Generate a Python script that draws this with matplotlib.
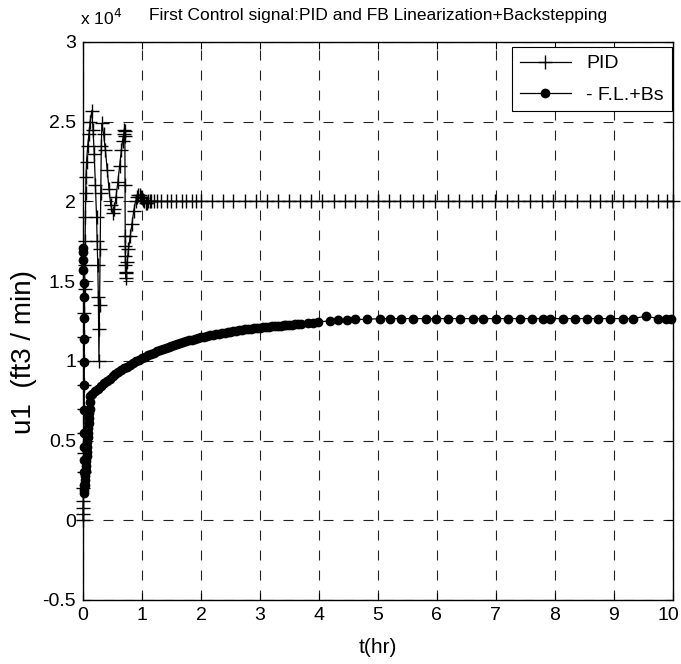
import matplotlib
matplotlib.use("Agg")
import matplotlib.pyplot as plt
from matplotlib.transforms import ScaledTranslation

plt.rcParams.update({
    "font.family": ["Liberation Sans", "DejaVu Sans"],
    "lines.scale_dashes": False,
    "axes.linewidth": 1.0,
})

# values in units of 1e4 ft3/min
pid_t = [0, 0, 0, 0.005, 0.005, 0.01, 0.01, 0.015, 0.015, 0.02, 0.02, 0.025, 0.025,
         0.03, 0.03, 0.035, 0.04, 0.045, 0.05, 0.06, 0.08, 0.10, 0.12, 0.15,
         0.17, 0.19, 0.21, 0.23, 0.24, 0.25, 0.26, 0.265, 0.27,
         0.28, 0.29, 0.30, 0.31, 0.32,
         0.35, 0.38, 0.41, 0.44, 0.47, 0.50, 0.53,
         0.56, 0.59, 0.62, 0.65, 0.67, 0.69, 0.70, 0.705, 0.71,
         0.712, 0.714, 0.716, 0.718, 0.72, 0.722, 0.724,
         0.73, 0.75, 0.77, 0.80, 0.83, 0.86, 0.89, 0.92,
         0.94, 0.96, 0.98, 1.00, 1.02, 1.04, 1.06, 1.08, 1.10, 1.13, 1.16, 1.20,
         1.25, 1.33, 1.42, 1.50, 1.58, 1.67, 1.75, 1.84, 1.92, 2.00,
         2.18, 2.37, 2.55, 2.74, 2.93, 3.12, 3.30, 3.50, 3.68, 3.87,
         4.06, 4.25, 4.44, 4.62, 4.81, 5.00, 5.19, 5.37, 5.59, 5.77,
         5.97, 6.19, 6.37, 6.59, 6.77, 6.98, 7.19, 7.37, 7.58, 7.78,
         7.97, 8.17, 8.37, 8.59, 8.77, 8.97, 9.16, 9.36, 9.56, 9.75, 9.91, 10.0]
pid_u = [0.0, 0.04, 0.08, 0.12, 0.20, 0.30, 0.42, 0.55, 0.70, 0.85, 1.00, 1.15, 1.30,
         1.45, 1.60, 1.75, 1.90, 2.05, 2.15, 2.25, 2.35, 2.42, 2.50, 2.57,
         2.45, 2.30, 2.10, 1.90, 1.75, 1.60, 1.40, 1.20, 1.00,
         1.35, 1.70, 2.05, 2.35, 2.49,
         2.42, 2.32, 2.20, 2.08, 1.98, 1.93, 1.95,
         2.03, 2.12, 2.22, 2.32, 2.38, 2.42, 2.45, 2.44, 2.41,
         2.10, 1.78, 1.72, 1.66, 1.60, 1.55, 1.52,
         1.56, 1.62, 1.70, 1.78, 1.86, 1.94, 2.00, 2.03,
         2.04, 2.04, 2.03, 2.02, 2.01, 2.00, 1.99, 1.99, 2.00, 2.00, 2.00, 2.00,
         2.00, 2.00, 2.00, 2.00, 2.00, 2.00, 2.00, 2.00, 2.00, 2.00,
         2.00, 2.00, 2.00, 2.00, 2.00, 2.00, 2.00, 2.00, 2.00, 2.00,
         2.00, 2.00, 2.00, 2.00, 2.00, 2.00, 2.00, 2.00, 2.00, 2.00,
         2.00, 2.00, 2.00, 2.00, 2.00, 2.00, 2.00, 2.00, 2.00, 2.00,
         2.00, 2.00, 2.00, 2.00, 2.00, 2.00, 2.00, 2.00, 2.00, 2.00, 2.00, 2.00]

fl_t = [0.0, 0.003, 0.005, 0.007, 0.009, 0.011, 0.012, 0.013, 0.014, 0.015, 0.016,
        0.017, 0.018, 0.019, 0.020, 0.021, 0.022,
        0.025, 0.03, 0.035, 0.04, 0.045, 0.05, 0.055, 0.06, 0.065, 0.07, 0.075,
        0.08, 0.085, 0.09, 0.095, 0.10, 0.105, 0.11, 0.115, 0.12,
        0.15, 0.20, 0.25, 0.30, 0.35, 0.40, 0.45, 0.50, 0.55, 0.60, 0.65, 0.70,
        0.75, 0.80, 0.85, 0.90, 0.95, 1.00, 1.05, 1.10, 1.15, 1.20, 1.25, 1.30,
        1.35, 1.40, 1.45, 1.50, 1.55, 1.60, 1.65, 1.70, 1.75, 1.80, 1.85, 1.90,
        1.95, 2.00, 2.05, 2.10, 2.15, 2.20, 2.25, 2.30, 2.35, 2.40, 2.45, 2.50,
        2.55, 2.60, 2.65, 2.70, 2.75, 2.80, 2.85, 2.90, 2.95, 3.00,
        3.05, 3.10, 3.15, 3.20, 3.25, 3.30, 3.35, 3.40, 3.45, 3.50, 3.55, 3.60,
        3.65, 3.70, 3.81, 3.90, 3.98, 4.19, 4.33, 4.47, 4.61, 4.81,
        5.03, 5.20, 5.39, 5.59, 5.82, 5.99, 6.19, 6.39, 6.61, 6.78, 7.01, 7.21,
        7.41, 7.61, 7.80, 7.92, 8.14, 8.34, 8.54, 8.73, 8.93, 9.16, 9.32, 9.55,
        9.75, 9.89, 9.97]
fl_u = [1.71, 1.68, 1.63, 1.57, 1.49, 1.40, 1.27, 1.14, 0.99, 0.85, 0.69,
        0.55, 0.46, 0.38, 0.30, 0.22, 0.17,
        0.19, 0.22, 0.25, 0.28, 0.31, 0.34, 0.37, 0.40, 0.43, 0.46, 0.49,
        0.52, 0.55, 0.58, 0.61, 0.64, 0.67, 0.70, 0.74, 0.78,
        0.791, 0.809, 0.826, 0.842, 0.858, 0.873, 0.888, 0.902, 0.915, 0.928, 0.941, 0.953,
        0.964, 0.975, 0.986, 0.997, 1.007, 1.016, 1.025, 1.034, 1.043, 1.051, 1.059, 1.066,
        1.074, 1.081, 1.087, 1.094, 1.100, 1.106, 1.112, 1.118, 1.123, 1.128, 1.133, 1.138,
        1.143, 1.147, 1.151, 1.155, 1.159, 1.163, 1.167, 1.170, 1.174, 1.177, 1.180, 1.183,
        1.186, 1.189, 1.191, 1.194, 1.197, 1.199, 1.201, 1.203, 1.206, 1.208,
        1.210, 1.212, 1.214, 1.216, 1.218, 1.219, 1.221, 1.223, 1.224, 1.226, 1.227, 1.229,
        1.230, 1.231, 1.240, 1.240, 1.245, 1.250, 1.255, 1.255, 1.260, 1.260,
        1.265, 1.265, 1.265, 1.265, 1.265, 1.265, 1.265, 1.265, 1.265, 1.265, 1.265, 1.265,
        1.265, 1.265, 1.265, 1.265, 1.265, 1.265, 1.265, 1.265, 1.265, 1.265, 1.265, 1.280,
        1.265, 1.265, 1.265]

xticks = [0, 1, 2, 3, 4, 5, 6, 7, 8, 9, 10]
yticks = [-0.5, 0, 0.5, 1, 1.5, 2, 2.5, 3]
ytick_labels = ["-0.5", "0", "0.5", "1", "1.5", "2", "2.5", "3"]

fig = plt.figure(figsize=(6.81, 6.64), dpi=100)
ax = fig.add_axes([0.1219, 0.0964, 0.866, 0.8404])

ax.plot(pid_t, pid_u, "-", marker="+", color="black", linewidth=0.9,
        markersize=10, markeredgewidth=1.0, label="PID", clip_on=False, zorder=3)
ax.plot(fl_t, fl_u, "-", marker="o", color="black", linewidth=0.9,
        markersize=6, label="- F.L.+Bs", clip_on=False, zorder=4)

ax.set_xlim(0, 10)
ax.set_ylim(-0.5, 3)
ax.set_xticks(xticks)
ax.set_yticks(yticks)
ax.set_yticklabels(ytick_labels)
ax.tick_params(direction="in", length=5, width=0.8, labelsize=14,
               top=True, right=True, pad=5)
ax.grid(True, color="#222222", linewidth=0.8, linestyle=(0, (7.2, 7.2)))
ax.set_axisbelow(True)

# last x tick label sits at the figure edge: nudge it a few pixels left
last = ax.get_xticklabels()[-1]
last.set_transform(last.get_transform() + ScaledTranslation(-4 / 100, 0, fig.dpi_scale_trans))

ax.set_xlabel("t(hr)", fontsize=15, labelpad=10)
ax.set_ylabel("u1  (ft3 / min)", fontsize=20)
ax.yaxis.set_label_coords(-0.078, 0.444)
ax.set_title("First Control signal:PID and FB Linearization+Backstepping",
             fontsize=12.5, pad=16)
ax.text(-0.005, 1.025, r"x 10$^4$", transform=ax.transAxes, fontsize=12.5,
        ha="left", va="bottom")

leg = ax.legend(loc="upper right", bbox_to_anchor=(0.998, 0.991), borderaxespad=0,
                fancybox=False, framealpha=1, edgecolor="black", fontsize=14,
                handlelength=2.6, numpoints=1, labelspacing=0.7)
leg.get_frame().set_linewidth(0.8)

fig.savefig("out.png", dpi=100)
